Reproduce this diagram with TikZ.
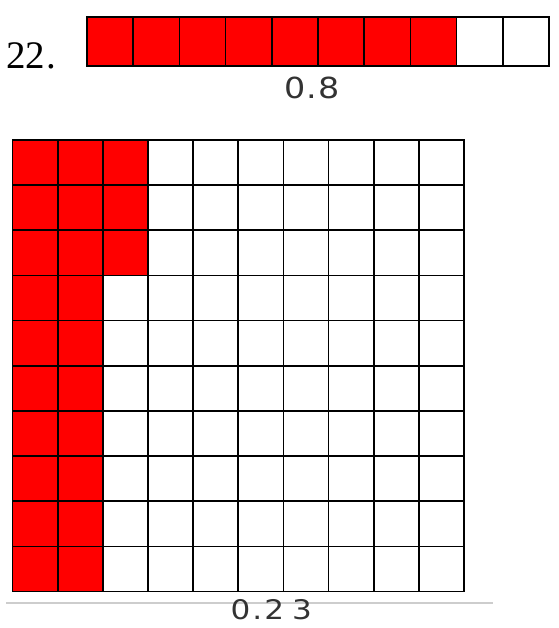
\documentclass[tikz,border=0pt]{standalone}
\usepackage{fontspec}
\newfontfamily\serifnum{Liberation Serif}
\newfontfamily\sansnum[FakeStretch=1.15]{DejaVu Sans}
\definecolor{cellred}{RGB}{255,0,0}
\definecolor{rulegray}{RGB}{205,205,205}
\begin{document}
\begin{tikzpicture}[x=1pt,y=-1pt,
  cellbox/.style={draw=black,line width=1.7pt},
  gridline/.style={draw=black,line width=1.7pt,line cap=rect},
  sepline/.style={draw=rulegray,line width=1.5pt},
  numlabel/.style={anchor=base,inner sep=0pt,text=black!80}]
\useasboundingbox (0,0) rectangle (558,628);
% problem number
\node[anchor=base west,inner sep=0pt,font=\serifnum\fontsize{39}{39}\selectfont] (num) at (6,69) {22\hspace{1.6pt}.};
% bar of ten
\foreach \i in {0,...,9}{
  \ifnum\i<8 \def\fc{cellred}\else\def\fc{white}\fi
  \draw[cellbox,fill=\fc] ({87+46.2*\i},17) rectangle ++(46.2,49);
}
\node[numlabel,font=\sansnum\fontsize{29}{29}\selectfont] (lbla) at (312,99) {0\hspace{1pt}.\hspace{1pt}8};
% hundred grid
\fill[cellred] (12.5,140) rectangle ++(135.45,135.45);
\fill[cellred] (12.5,140) rectangle ++(90.3,451.5);
\foreach \i in {0,...,10}{
  \draw[gridline] ({12.5+45.15*\i},140) -- ++(0,451.5);
  \draw[gridline] (12.5,{140+45.15*\i}) -- ++(451.5,0);
}
\draw[sepline] (6,603) -- (493,603);
\node[numlabel,font=\sansnum\fontsize{27}{27}\selectfont] (lblb) at (271.25,619) {0\hspace{2pt}.\hspace{2pt}2\hspace{8pt}3};
\end{tikzpicture}
\end{document}
